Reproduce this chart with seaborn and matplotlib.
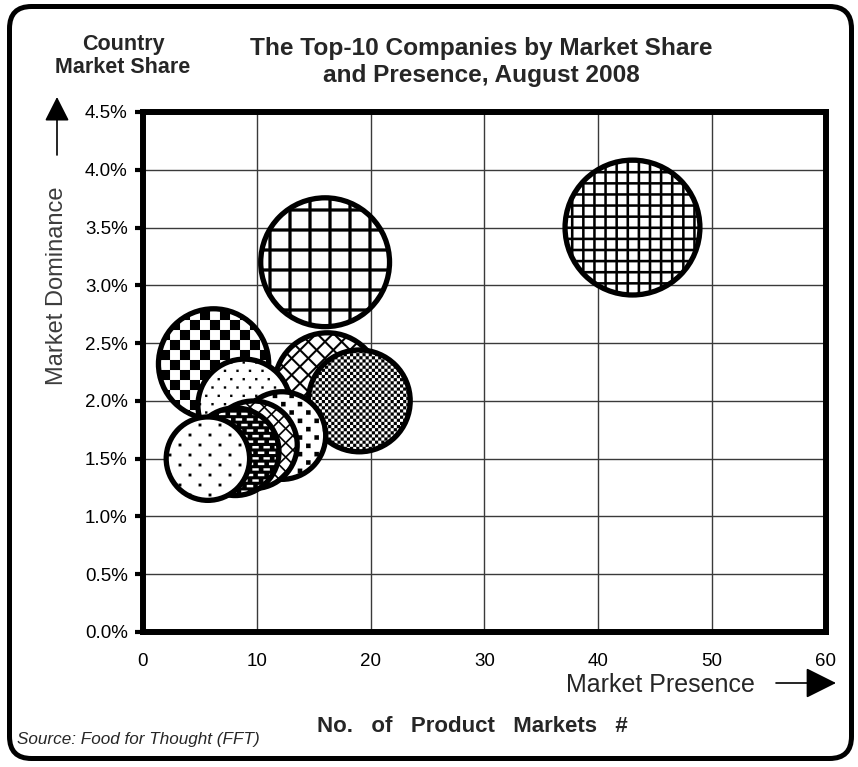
import warnings
warnings.filterwarnings("ignore")
import numpy as np
import matplotlib
matplotlib.use("Agg")
import matplotlib.pyplot as plt
import matplotlib.hatch as mhatch
from matplotlib.path import Path
from matplotlib.patches import FancyBboxPatch, FancyArrowPatch
from matplotlib.transforms import IdentityTransform
from matplotlib import font_manager
import seaborn as sns

# ---------------- data ----------------
market_presence = [43, 16, 6.2, 16.2, 19, 8.9, 12.2, 9.7, 8.1, 5.7]
market_share = [3.50, 3.20, 2.32, 2.13, 2.00, 1.96, 1.70, 1.62, 1.56, 1.50]
bubble_size = [4.62, 4.23, 3.14, 2.92, 2.70, 2.26, 2.03, 2.03, 2.03, 1.85]
x_ticks = [0, 10, 20, 30, 40, 50, 60]
x_tick_labels = ["0", "10", "20", "30", "40", "50", "60"]
y_ticks = [0.0, 0.5, 1.0, 1.5, 2.0, 2.5, 3.0, 3.5, 4.0, 4.5]
y_tick_labels = ["0.0%", "0.5%", "1.0%", "1.5%", "2.0%", "2.5%", "3.0%", "3.5%", "4.0%", "4.5%"]
title = "The Top-10 Companies by Market Share\nand Presence, August 2008"
pattern_keys = ["a", "b", "c", "d", "e", "f", "g", "h", "i", "j"]

# ---------------- custom fill patterns (Excel-like) ----------------
PX = 0.01  # one hatch tile = 100 px at dpi 100
OUTER = [(-0.3, -0.3), (1.3, -0.3), (1.3, 1.3), (-0.3, 1.3)]


def rect(cx, cy, w, h, cw=False):
    x0, x1, y0, y1 = cx - w / 2, cx + w / 2, cy - h / 2, cy + h / 2
    if cw:
        return [(x0, y0), (x0, y1), (x1, y1), (x1, y0)]
    return [(x0, y0), (x1, y0), (x1, y1), (x0, y1)]


def grid_pat(n, t):
    polys = [OUTER]
    side = 1.0 / n - t
    for i in range(-1, n + 2):
        for j in range(-1, n + 2):
            polys.append(rect(i / n, j / n, side, side, cw=True))
    return polys


def checker_pat(n):
    s = 1.0 / n
    return [rect((i + 0.5) * s, (j + 0.5) * s, s, s)
            for i in range(n) for j in range(n) if (i + j) % 2 == 0]


def diag_pat(n, t):
    polys = [OUTER]
    d = 1.0 / (2 * n) - t / np.sqrt(2)
    for u in range(-2, 2 * n + 3):
        for v in range(-2, 2 * n + 3):
            if (u + v) % 2 == 1:
                cx, cy = u / (2 * n), v / (2 * n)
                polys.append([(cx - d, cy), (cx, cy + d), (cx + d, cy), (cx, cy - d)])
    return polys


def lattice_pat(cols, rows, w, h, invert=False):
    polys = [OUTER] if invert else []
    for r in range(-1, rows + 1):
        cy = (r + 0.5) / rows
        off = 0.5 / cols if r % 2 else 0.0
        for c in range(-1, cols + 1):
            cx = (c + 0.5) / cols + off
            polys.append(rect(cx, cy, w, h, cw=invert))
    return polys


PATTERNS = {
    "a": grid_pat(9, 2.5 * PX),
    "b": grid_pat(5, 3.2 * PX),
    "c": checker_pat(10),
    "d": diag_pat(6, 2.0 * PX),
    "e": checker_pat(32),
    "f": lattice_pat(8, 12, 2.3 * PX, 2.3 * PX),
    "g": lattice_pat(6, 12, 4.5 * PX, 4.5 * PX),
    "h": diag_pat(7, 1.6 * PX),
    "i": lattice_pat(9, 18, 6.5 * PX, 2.5 * PX, invert=True),
    "j": lattice_pat(5, 10, 2.8 * PX, 2.8 * PX),
}


class CustomHatch(mhatch.HatchPatternBase):
    def __init__(self, hatch, density):
        self.polys = []
        for key, polys in PATTERNS.items():
            if key in hatch:
                self.polys.extend(polys)
        self.num_vertices = sum(len(p) + 1 for p in self.polys)

    def set_vertices_and_codes(self, vertices, codes):
        i = 0
        for p in self.polys:
            n = len(p)
            vertices[i:i + n] = p
            vertices[i + n] = p[0]
            codes[i] = Path.MOVETO
            codes[i + 1:i + n] = Path.LINETO
            codes[i + n] = Path.CLOSEPOLY
            i += n + 1


mhatch._hatch_types.append(CustomHatch)

# ---------------- style ----------------
sns.set_style("white")


def has_font(name):
    try:
        font_manager.findfont(font_manager.FontProperties(family=name),
                              fallback_to_default=False)
        return True
    except Exception:
        return False


plt.rcParams["font.family"] = ["Liberation Sans", "DejaVu Sans"]
plt.rcParams["hatch.linewidth"] = 0.05
plt.rcParams["hatch.color"] = "black"
NARROW = has_font("Liberation Sans Narrow")

W, H = 858, 767
fig = plt.figure(figsize=(W / 100, H / 100), dpi=100)
fig.patch.set_facecolor("white")

ax = fig.add_axes([143 / W, 1 - 632 / H, 683 / W, 520 / H])

EDGE_LW = 3.8  # points
for i in range(len(market_presence)):
    r_out_px = 32.6 * np.sqrt(bubble_size[i])
    r_pt = (r_out_px - EDGE_LW * 100 / 72 / 2) * 0.72
    sns.scatterplot(x=[market_presence[i]], y=[market_share[i]], ax=ax,
                    s=(2 * r_pt) ** 2, color="white", edgecolor="black",
                    linewidth=EDGE_LW, hatch=pattern_keys[i],
                    zorder=3 + i, legend=False)

ax.set_xlim(0, 60)
ax.set_ylim(0, 4.5)
ax.set_xticks(x_ticks)
ax.set_xticklabels(x_tick_labels)
ax.set_yticks(y_ticks)
ax.set_yticklabels(y_tick_labels)
ax.set_xlabel("")
ax.set_ylabel("")
ax.set_axisbelow(True)
ax.grid(True, color="#3a3a3a", linewidth=1.0)
for sp in ax.spines.values():
    sp.set_visible(True)
    sp.set_linewidth(4.3)
    sp.set_color("black")
ax.tick_params(axis="y", direction="out", length=6, width=3, pad=5,
               labelsize=13.5, colors="black", left=True)
ax.tick_params(axis="x", length=0, pad=15, labelsize=13.5, colors="black")
ax.set_facecolor("white")

# ---------------- texts ----------------
fig.text(123 / W, 1 - 56 / H, "Country\nMarket Share", ha="center", va="center",
         fontsize=15.5, fontweight="bold", linespacing=1.15)
fig.text(481 / W, 1 - 62 / H, title, ha="center", va="center",
         fontsize=17.6, fontweight="bold", linespacing=1.2)
fig.text(57 / W, 1 - 286 / H, "Market Dominance", rotation=90, ha="center",
         va="center", fontsize=17, color="#3c3c3c")
fig.text(660 / W, 1 - 685 / H, "Market Presence", ha="center", va="center",
         fontsize=18)
fig.text(472 / W, 1 - 726 / H, "No.   of   Product   Markets   #", ha="center",
         va="center", fontsize=16, fontweight="bold")
if NARROW:
    fig.text(17 / W, 1 - 744 / H, "Source: Food for Thought (FFT)", ha="left",
             va="baseline", fontsize=15, style="italic",
             family=["Liberation Sans Narrow", "Liberation Sans"])
else:
    fig.text(17 / W, 1 - 744 / H, "Source: Food for Thought (FFT)", ha="left",
             va="baseline", fontsize=12.3, style="italic")

# ---------------- arrows & frame ----------------
pix = IdentityTransform()
fig.add_artist(FancyArrowPatch(posA=(57, H - 155), posB=(57, H - 97),
                               arrowstyle="-|>,head_length=0.75,head_width=0.38",
                               mutation_scale=20, lw=1.2, color="black",
                               shrinkA=0, shrinkB=0, transform=pix))
fig.add_artist(FancyArrowPatch(posA=(776, H - 683), posB=(836, H - 683),
                               arrowstyle="-|>,head_length=0.8,head_width=0.4",
                               mutation_scale=24, lw=1.2, color="black",
                               shrinkA=0, shrinkB=0, transform=pix))
fig.add_artist(FancyBboxPatch((9.5, H - 758.5), 842, 752,
                              boxstyle="round,pad=0,rounding_size=22",
                              fill=False, lw=3.6, edgecolor="black",
                              transform=pix))

fig.savefig("out.png", dpi=100)
